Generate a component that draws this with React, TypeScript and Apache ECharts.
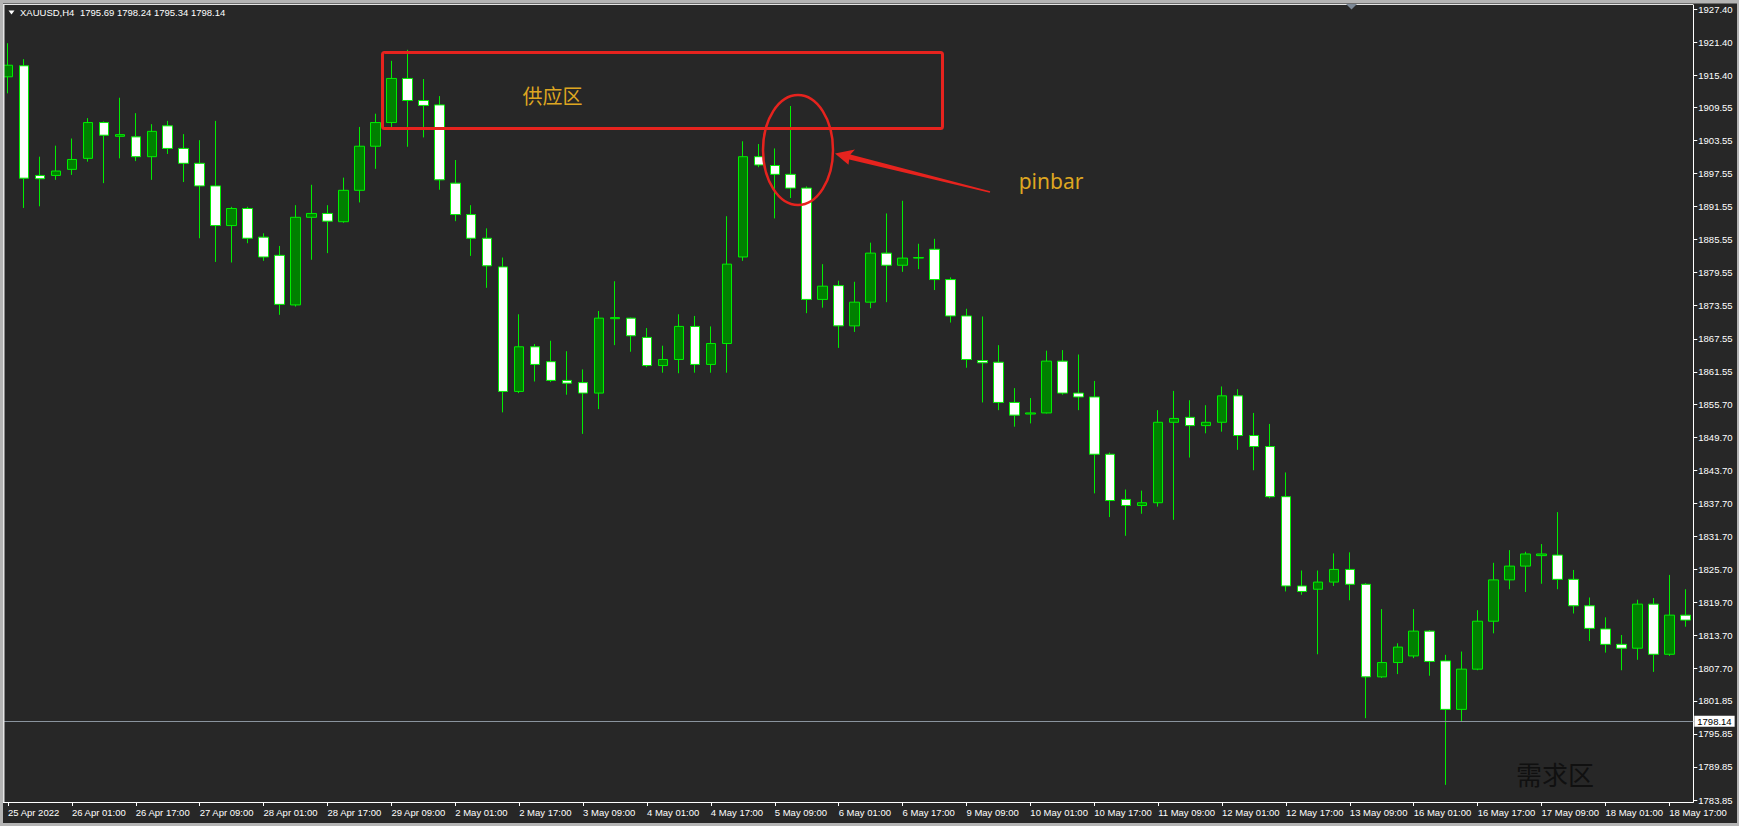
import React, { useEffect, useRef } from "react";
import * as echarts from "echarts";

// ---- data ----
const tradingDays = [
  "25 Apr", "26 Apr", "27 Apr", "28 Apr", "29 Apr", "2 May", "3 May", "4 May", "5 May",
  "6 May", "9 May", "10 May", "11 May", "12 May", "13 May", "16 May", "17 May", "18 May",
];
const sessionHours = ["01:00", "05:00", "09:00", "13:00", "17:00", "21:00"];
const firstSessionOfFirstDay = 2; // chart starts at 25 Apr 09:00
const firstLabel = "25 Apr 2022";

const openPrices = [
  1915.1, 1917.1, 1897.2, 1897.2, 1898.3, 1900.3, 1906.8, 1904.3, 1904.2, 1900.6,
  1906.2, 1902.1, 1899.4, 1895.3, 1888.1, 1891.2, 1886.0, 1882.7, 1873.7, 1889.6,
  1890.3, 1888.8, 1894.5, 1902.5, 1906.8, 1914.8, 1910.8, 1910.0, 1895.8, 1890.1,
  1885.8, 1880.6, 1858.0, 1866.1, 1863.4, 1860.0, 1859.6, 1857.7, 1871.2, 1871.3,
  1867.8, 1862.7, 1863.8, 1869.8, 1862.9, 1866.7, 1882.4, 1900.6, 1899.0, 1897.4,
  1894.9, 1874.7, 1877.2, 1869.9, 1874.2, 1883.1, 1880.9, 1882.2, 1883.8, 1878.3,
  1871.7, 1863.6, 1863.3, 1856.0, 1853.9, 1854.1, 1863.5, 1857.7, 1857.0, 1846.6,
  1838.4, 1837.3, 1837.8, 1852.4, 1853.3, 1851.8, 1852.4, 1857.2, 1850.0, 1848.0,
  1838.9, 1822.7, 1822.1, 1823.4, 1825.7, 1823.0, 1806.2, 1808.8, 1810.0, 1814.5,
  1809.1, 1800.3, 1807.6, 1816.3, 1823.8, 1826.3, 1828.2, 1828.3, 1823.9, 1819.1,
  1814.9, 1812.1, 1811.4, 1819.4, 1810.3, 1817.4,
];
const highPrices = [
  1921.2, 1918.3, 1900.6, 1902.6, 1903.9, 1907.6, 1907.0, 1911.3, 1908.5, 1906.5,
  1907.1, 1904.7, 1903.6, 1907.1, 1891.5, 1891.5, 1886.7, 1884.4, 1891.8, 1895.5,
  1891.8, 1896.8, 1906.0, 1908.4, 1918.0, 1920.0, 1914.7, 1911.6, 1900.0, 1891.8,
  1887.6, 1882.3, 1872.0, 1866.6, 1867.2, 1865.3, 1862.0, 1872.6, 1878.0, 1871.4,
  1869.5, 1866.3, 1872.0, 1871.7, 1869.8, 1889.8, 1903.4, 1902.9, 1902.1, 1909.8,
  1895.2, 1881.1, 1878.1, 1877.9, 1885.0, 1890.3, 1892.6, 1884.8, 1885.7, 1878.7,
  1873.0, 1871.6, 1866.4, 1858.6, 1856.8, 1865.4, 1865.5, 1864.7, 1859.9, 1846.9,
  1840.2, 1840.0, 1854.6, 1858.1, 1856.4, 1855.5, 1858.9, 1858.4, 1854.1, 1852.1,
  1843.3, 1825.5, 1825.5, 1828.6, 1828.8, 1823.2, 1818.5, 1812.3, 1818.5, 1814.7,
  1810.2, 1810.8, 1818.3, 1826.9, 1829.2, 1828.9, 1830.3, 1836.1, 1825.6, 1820.6,
  1817.0, 1813.8, 1820.2, 1820.5, 1824.7, 1822.1,
];
const lowPrices = [
  1912.1, 1891.3, 1891.6, 1896.4, 1897.3, 1899.7, 1895.8, 1900.3, 1899.8, 1896.4,
  1901.1, 1896.0, 1885.8, 1881.5, 1881.4, 1884.9, 1881.7, 1871.9, 1873.4, 1881.9,
  1883.1, 1888.6, 1892.3, 1898.4, 1905.9, 1902.4, 1904.1, 1894.6, 1888.9, 1882.6,
  1876.8, 1854.2, 1857.7, 1859.8, 1859.7, 1857.4, 1850.3, 1854.8, 1866.4, 1865.2,
  1862.4, 1861.4, 1861.3, 1861.4, 1861.4, 1861.4, 1881.7, 1898.7, 1889.4, 1893.1,
  1872.2, 1873.2, 1865.9, 1868.8, 1873.1, 1874.2, 1879.7, 1880.2, 1876.4, 1870.5,
  1862.3, 1856.0, 1854.6, 1851.6, 1852.2, 1854.0, 1857.4, 1854.6, 1839.5, 1835.2,
  1831.8, 1835.8, 1837.1, 1834.7, 1846.0, 1850.4, 1850.7, 1847.4, 1843.7, 1838.6,
  1821.7, 1821.1, 1810.3, 1822.7, 1820.1, 1798.7, 1806.0, 1806.7, 1809.6, 1806.4,
  1786.6, 1798.0, 1807.4, 1814.1, 1822.1, 1821.6, 1823.1, 1822.1, 1817.7, 1812.7,
  1810.6, 1807.4, 1809.3, 1807.1, 1810.0, 1815.3,
];
const closePrices = [
  1917.2, 1896.7, 1896.6, 1898.0, 1900.1, 1906.8, 1904.5, 1904.6, 1900.6, 1905.2,
  1902.1, 1899.4, 1895.3, 1888.1, 1891.2, 1885.8, 1882.4, 1873.8, 1889.6, 1890.3,
  1888.9, 1894.5, 1902.5, 1906.8, 1914.8, 1910.8, 1909.9, 1896.4, 1890.1, 1885.8,
  1880.8, 1858.0, 1866.1, 1862.9, 1860.0, 1859.5, 1857.7, 1871.3, 1871.4, 1868.1,
  1862.7, 1863.8, 1869.8, 1862.9, 1866.7, 1881.1, 1900.6, 1899.1, 1897.4, 1894.9,
  1874.7, 1877.1, 1869.9, 1874.2, 1883.1, 1880.9, 1882.2, 1882.3, 1878.3, 1871.7,
  1863.8, 1863.2, 1856.0, 1853.7, 1854.1, 1863.5, 1857.7, 1857.0, 1846.6, 1838.2,
  1837.3, 1837.8, 1852.4, 1853.1, 1851.8, 1852.4, 1857.2, 1850.0, 1848.0, 1838.9,
  1822.7, 1821.7, 1823.4, 1825.7, 1823.0, 1806.2, 1808.8, 1811.6, 1814.5, 1809.0,
  1800.3, 1807.6, 1816.3, 1823.8, 1826.3, 1828.5, 1828.5, 1823.9, 1819.1, 1815.0,
  1812.1, 1811.4, 1819.4, 1810.3, 1817.4, 1816.5,
];

const yTickValues = [
  1927.4, 1921.4, 1915.4, 1909.55, 1903.55, 1897.55, 1891.55, 1885.55, 1879.55,
  1873.55, 1867.55, 1861.55, 1855.7, 1849.7, 1843.7, 1837.7, 1831.7, 1825.7,
  1819.7, 1813.7, 1807.7, 1801.85, 1795.85, 1789.85, 1783.85,
];
const yMin = 1783.49;
const yMax = 1928.13;
const currentPrice = 1798.14;
const headerSymbol = "XAUUSD,H4";
const headerQuote = "1795.69 1798.24 1795.34 1798.14";
const supplyLabel = "供应区";
const demandLabel = "需求区";
const pinbarLabel = "pinbar";

// ---- derived tables ----
const categories: string[] = [];
tradingDays.forEach((d, i) => {
  const hrs = i === 0 ? sessionHours.slice(firstSessionOfFirstDay) : sessionHours;
  hrs.forEach((h) => categories.push(`${d} ${h}`));
});
const candleData = openPrices.map((o, i) => [o, closePrices[i], lowPrices[i], highPrices[i]]);

const FONT = '"Liberation Sans", Arial, sans-serif';
const BG = "#272727";
const LIME = "#00ee00";
const RED = "#e6231e";
const GOLD = "#dea621";

export default function App() {
  const ref = useRef<HTMLDivElement>(null);

  useEffect(() => {
    if (!ref.current) return;
    const chart = echarts.init(ref.current, undefined, { renderer: "svg" });
    const option: any = {
      animation: false,
      backgroundColor: BG,
      grid: { left: -2.7, top: 5, width: 1696, height: 797, containLabel: false },
      xAxis: {
        type: "category",
        data: categories,
        boundaryGap: true,
        axisLine: { show: true, onZero: false, lineStyle: { color: "#ffffff", width: 1 } },
        axisTick: { show: true, interval: 3, alignWithLabel: true, length: 4, lineStyle: { color: "#ffffff" } },
        axisLabel: {
          interval: 3,
          color: "#ffffff",
          fontSize: 9.5,
          fontFamily: FONT,
          align: "left",
          margin: 5,
          formatter: (v: string) => (v === categories[0] ? firstLabel : v),
        },
        splitLine: { show: false },
      },
      yAxis: {
        type: "value",
        position: "right",
        min: yMin,
        max: yMax,
        splitLine: { show: false },
        axisLine: { show: true, lineStyle: { color: "#ffffff", width: 1 } },
        axisTick: { show: true, length: 4, lineStyle: { color: "#ffffff" }, customValues: yTickValues },
        axisLabel: {
          color: "#ffffff",
          fontSize: 9.5,
          fontFamily: FONT,
          margin: 5,
          customValues: yTickValues,
          formatter: (v: number) => v.toFixed(2),
        },
      },
      series: [
        {
          type: "candlestick",
          data: candleData,
          barWidth: 10,
          clip: true,
          itemStyle: {
            color: "#008000",
            color0: "#ffffff",
            borderColor: LIME,
            borderColor0: LIME,
            borderWidth: 1,
          },
          markLine: {
            silent: true,
            symbol: ["none", "none"],
            animation: false,
            data: [{ yAxis: currentPrice }],
            lineStyle: { color: "#8a949e", width: 1, type: "solid" },
            label: {
              show: true,
              position: "end",
              distance: 1,
              formatter: currentPrice.toFixed(2),
              color: "#000000",
              backgroundColor: "#ffffff",
              padding: [1, 3, 0, 3],
              fontSize: 9.5,
              fontFamily: FONT,
            },
          },
        },
      ],
      graphic: {
        elements: [
          // window frame
          { type: "rect", z: 100, shape: { x: 0, y: 0, width: 1739, height: 3.5 }, style: { fill: "#b4b4b4" } },
          { type: "rect", z: 100, shape: { x: 0, y: 0, width: 3, height: 826 }, style: { fill: "#b4b4b4" } },
          { type: "rect", z: 100, shape: { x: 0, y: 823, width: 1739, height: 3 }, style: { fill: "#b4b4b4" } },
          { type: "rect", z: 100, shape: { x: 1737, y: 0, width: 2, height: 826 }, style: { fill: "#b4b4b4" } },
          { type: "rect", z: 100, shape: { x: 3, y: 4, width: 1690, height: 1 }, style: { fill: "#e6e6e6" } },
          { type: "rect", z: 100, shape: { x: 3, y: 4, width: 1.5, height: 798 }, style: { fill: "#e6e6e6" } },
          // header
          { type: "polygon", z: 100, shape: { points: [[8.5, 10.5], [14.5, 10.5], [11.5, 14.5]] }, style: { fill: "#ffffff" } },
          {
            type: "text", z: 100, x: 20, y: 12.5,
            style: { text: headerSymbol, fill: "#ffffff", font: `9.5px ${FONT}`, textVerticalAlign: "middle", verticalAlign: "middle" },
          },
          {
            type: "text", z: 100, x: 80, y: 12.5,
            style: { text: headerQuote, fill: "#ffffff", font: `9.5px ${FONT}`, textVerticalAlign: "middle", verticalAlign: "middle" },
          },
          // chart shift marker
          { type: "polygon", z: 100, shape: { points: [[1346, 4], [1357, 4], [1351.5, 9.5]] }, style: { fill: "#7c8896" } },
          // supply zone
          {
            type: "rect", z: 90,
            shape: { x: 382.5, y: 52.5, width: 560, height: 76, r: 2 },
            style: { fill: "none", stroke: RED, lineWidth: 3 },
          },
          {
            type: "text", z: 90, x: 552.5, y: 95,
            style: {
              text: supplyLabel, fill: GOLD, font: '20px "Noto Sans CJK SC", sans-serif',
              textAlign: "center", align: "center", textVerticalAlign: "middle", verticalAlign: "middle",
            },
          },
          // pinbar ellipse
          {
            type: "ellipse", z: 90,
            shape: { cx: 798, cy: 150, rx: 35, ry: 55 },
            style: { fill: "none", stroke: RED, lineWidth: 2.5 },
          },
          // arrow
          {
            type: "polygon", z: 90,
            shape: {
              points: [
                [835, 153.5], [855, 149.5], [850.4, 154.6], [990.2, 191.3],
                [989.8, 192.7], [849.2, 159.6], [848.5, 164.8],
              ],
            },
            style: { fill: RED },
          },
          {
            type: "text", z: 90, x: 1051, y: 181,
            style: {
              text: pinbarLabel, fill: GOLD, font: '21px "Noto Sans", sans-serif',
              textAlign: "center", align: "center", textVerticalAlign: "middle", verticalAlign: "middle",
            },
          },
          // demand zone label
          {
            type: "text", z: 90, x: 1555, y: 773,
            style: {
              text: demandLabel, fill: "#101010", font: '26px "Noto Sans CJK SC", sans-serif',
              textAlign: "center", align: "center", textVerticalAlign: "middle", verticalAlign: "middle",
            },
          },
        ],
      },
    };
    chart.setOption(option);
    return () => chart.dispose();
  }, []);

  return (
    <div
      ref={ref}
      style={{ position: "fixed", left: 0, top: 0, width: 1739, height: 826, background: BG }}
    />
  );
}
